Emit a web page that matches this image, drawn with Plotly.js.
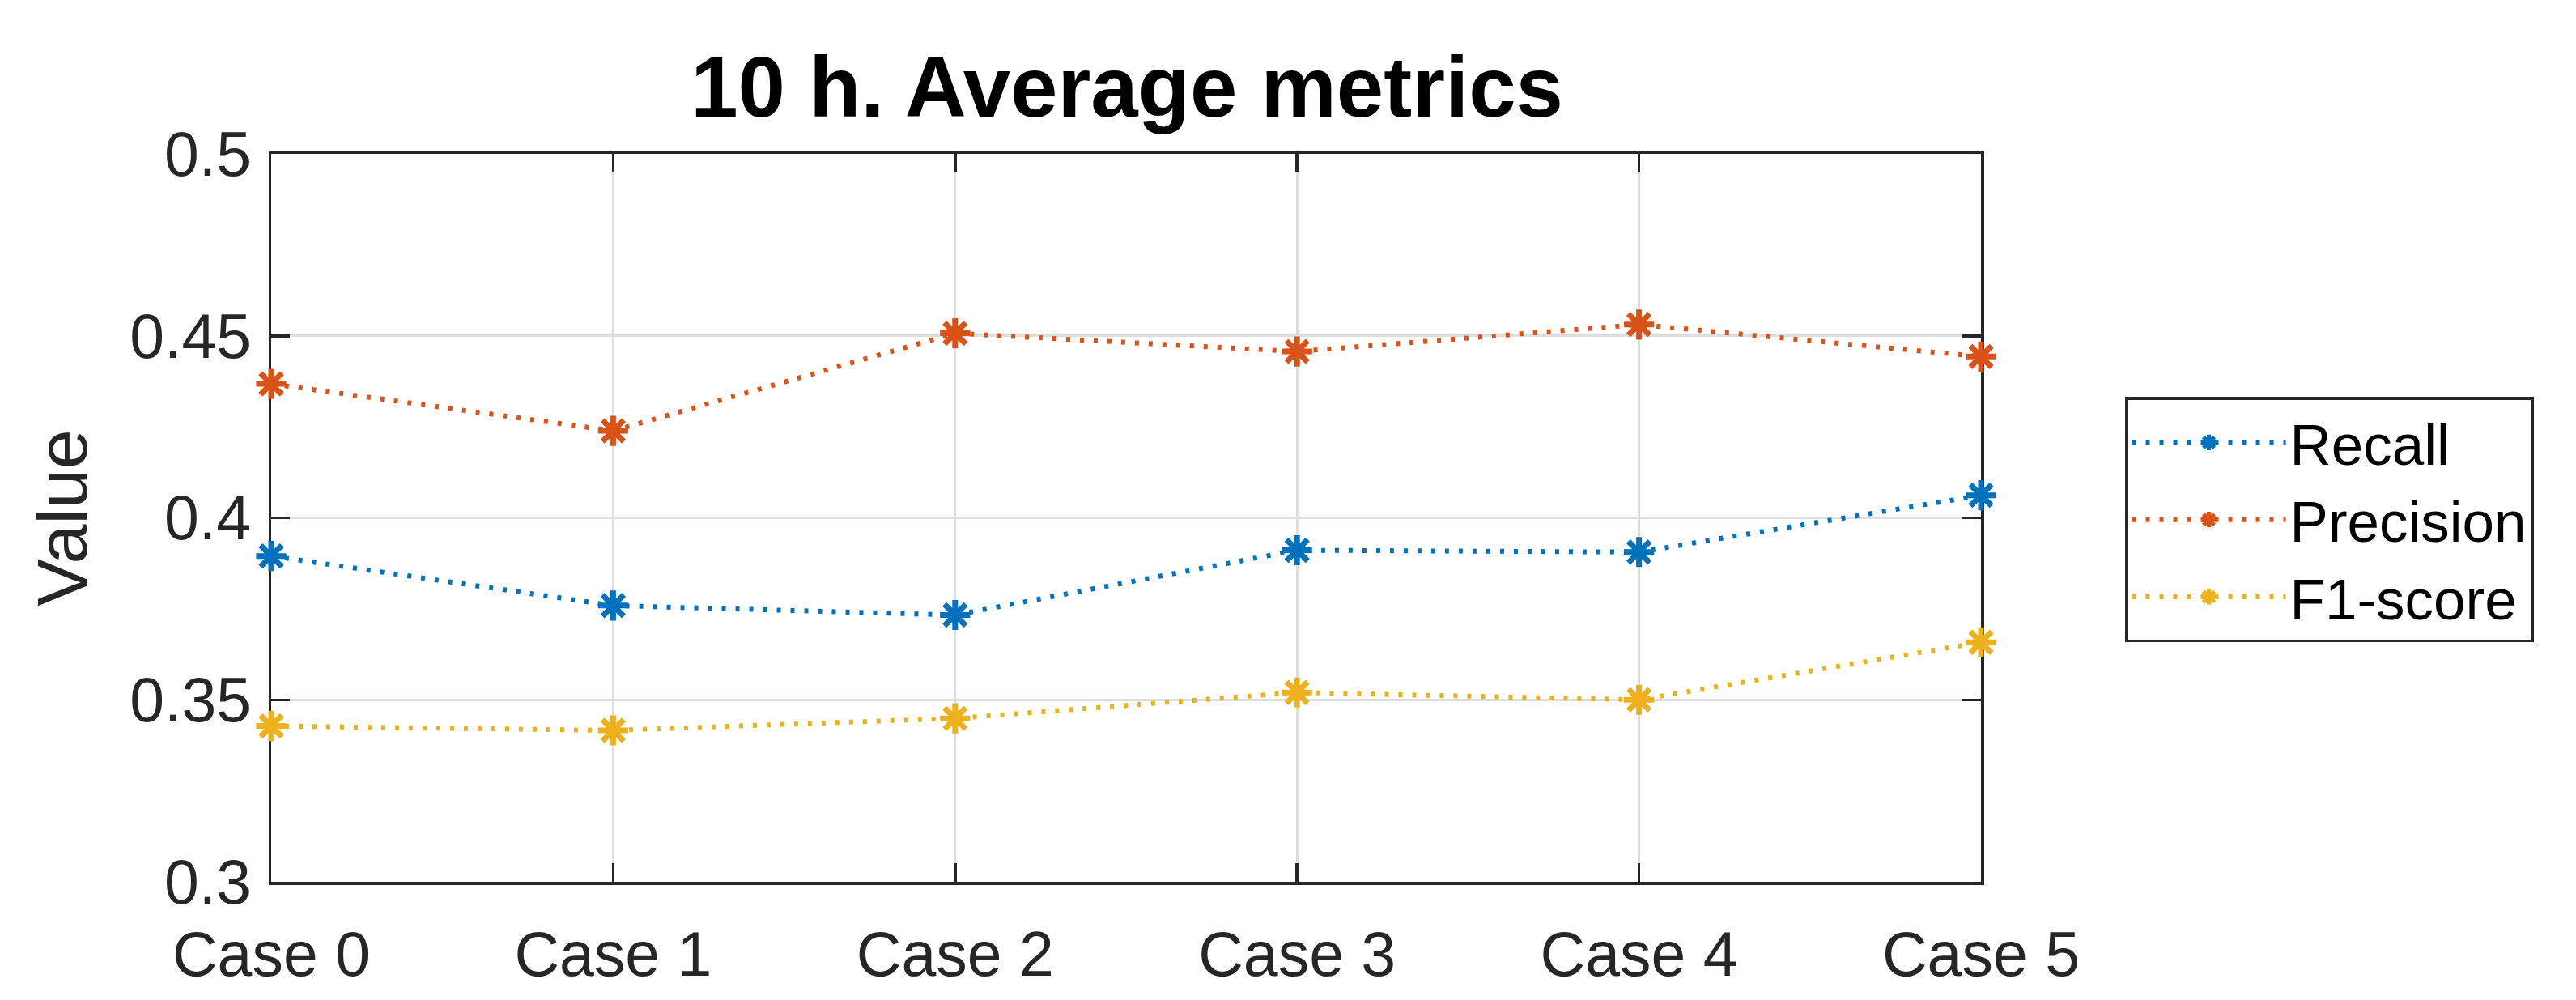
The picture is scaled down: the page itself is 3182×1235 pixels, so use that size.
<!DOCTYPE html>
<html>
<head>
<meta charset="utf-8">
<script src="https://cdn.plot.ly/plotly-3.0.1.min.js"></script>
<style>
  html, body { margin: 0; padding: 0; background: #ffffff; }
  #chart { width: 3182px; height: 1235px; }
</style>
</head>
<body>
<div id="chart"></div>
<script>
// ---- data ----
var categories = ['Case 0', 'Case 1', 'Case 2', 'Case 3', 'Case 4', 'Case 5'];
var recall     = [0.3895, 0.3759, 0.3733, 0.3911, 0.3906, 0.4062];
var precision  = [0.4368, 0.4239, 0.4507, 0.4457, 0.4531, 0.4443];
var f1score    = [0.3428, 0.3416, 0.3449, 0.3520, 0.3500, 0.3658];
var seriesNames = ['Recall', 'Precision', 'F1-score'];
var yTickVals = [0.3, 0.35, 0.4, 0.45, 0.5];
var yTickText = ['0.3', '0.35', '0.4', '0.45', '0.5'];

var colors = ['#0072BD', '#D95319', '#EDB120'];
var seriesValues = [recall, precision, f1score];

var traces = seriesValues.map(function (vals, i) {
  return {
    type: 'scatter',
    mode: 'lines+markers',
    name: seriesNames[i],
    x: categories,
    y: vals,
    cliponaxis: false,
    line: { color: colors[i], width: 6, dash: '5px,12px' },
    marker: {
      symbol: 'asterisk-open',
      size: 31,
      color: colors[i],
      line: { color: colors[i], width: 7 }
    }
  };
});

var axisCommon = {
  showline: true,
  linecolor: '#262626',
  linewidth: 3.5,
  mirror: 'ticks',
  ticks: 'inside',
  ticklen: 23,
  tickwidth: 3.5,
  tickcolor: '#262626',
  showgrid: true,
  gridcolor: '#dedede',
  gridwidth: 3,
  zeroline: false,
  layer: 'below traces',
  tickfont: { family: 'Liberation Sans, Arial, sans-serif', size: 77, color: '#262626' }
};

var layout = {
  width: 3182,
  height: 1235,
  paper_bgcolor: '#ffffff',
  plot_bgcolor: '#ffffff',
  margin: { l: 335, r: 735, t: 190, b: 146, pad: 0 },
  title: {
    text: '<b>10 h. Average metrics</b>',
    font: { family: 'Liberation Sans, Arial, sans-serif', size: 105, color: '#000000' },
    x: 0.4375,
    xanchor: 'center',
    y: 0.913,
    yanchor: 'middle'
  },
  xaxis: Object.assign({}, axisCommon, {
    type: 'category',
    range: [0, 5],
    ticklabelstandoff: 20
  }),
  yaxis: Object.assign({}, axisCommon, {
    range: [0.3, 0.5],
    tickvals: yTickVals,
    ticktext: yTickText,
    ticklabelstandoff: 6,
    title: {
      text: 'Value',
      font: { family: 'Liberation Sans, Arial, sans-serif', size: 88, color: '#262626' },
      standoff: 24
    }
  }),
  showlegend: true,
  legend: {
    x: 1.0843,
    xanchor: 'left',
    y: 0.666,
    yanchor: 'top',
    bgcolor: '#ffffff',
    bordercolor: '#262626',
    borderwidth: 3.5,
    itemwidth: 190,
    font: { family: 'Liberation Sans, Arial, sans-serif', size: 71, color: '#000000' },
    tracegroupgap: 0
  }
};

Plotly.newPlot('chart', traces, layout, { staticPlot: true, displayModeBar: false });
</script>
</body>
</html>
